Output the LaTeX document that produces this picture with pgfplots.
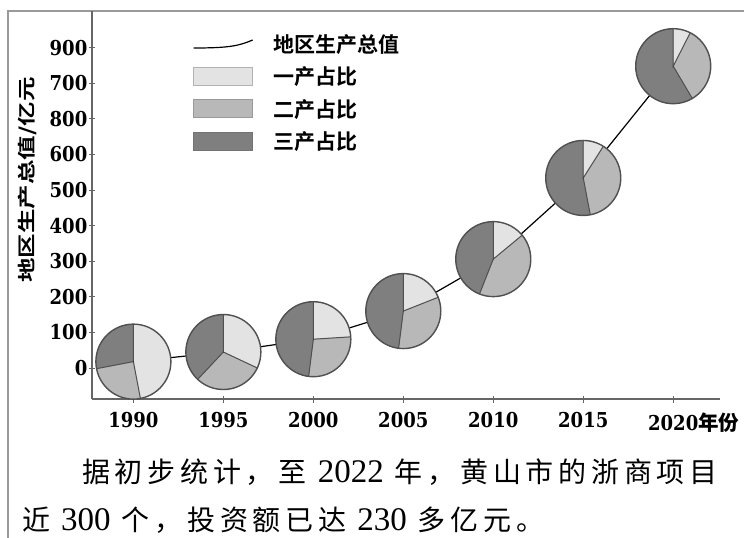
\documentclass[border=0pt]{standalone}
\usepackage{pgfplots}
\pgfplotsset{compat=1.18}
\usepackage{graphicx}
\usepackage{fontspec}
\setmainfont{DejaVu Serif}[FakeStretch=0.88]
\newfontfamily\cjkb{Noto Sans CJK SC Bold}
\newfontfamily\cjk{Noto Sans CJK SC}[LetterSpace=17]
\newfontfamily\tnr{Liberation Serif}

\definecolor{plight}{HTML}{E3E3E3}
\definecolor{pmed}{HTML}{B8B8B8}
\definecolor{pdark}{HTML}{7F7F7F}
\definecolor{pline}{HTML}{505050}
\definecolor{framec}{HTML}{9A9A9A}

\def\pr{37.5bp}
% meta "a/b": share of primary and secondary industry in %
\def\drawpie#1/#2\relax{%
  \pgfmathsetmacro\angA{90-3.6*#1}%
  \pgfmathsetmacro\angB{\angA-3.6*#2}%
  \begin{scope}[opacity=1, draw opacity=1, fill opacity=1]
  \fill[plight] (0pt,0pt) -- (90:\pr) arc[start angle=90, end angle=\angA, radius=\pr] -- cycle;
  \fill[pmed] (0pt,0pt) -- (\angA:\pr) arc[start angle=\angA, end angle=\angB, radius=\pr] -- cycle;
  \fill[pdark] (0pt,0pt) -- (\angB:\pr) arc[start angle=\angB, end angle=-270, radius=\pr] -- cycle;
  \draw[pline, line width=1bp] (90:\pr) -- (0pt,0pt) -- (\angA:\pr) (0pt,0pt) -- (\angB:\pr);
  \draw[pline, line width=1.4bp] (0pt,0pt) circle[radius=\pr];
  \end{scope}
}

\begin{document}
\begin{tikzpicture}
\path[use as bounding box] (0,0) rectangle (744bp,-538bp);
\draw[framec, line width=1.5bp] (744bp,-11bp) -- (8bp,-11bp) -- (8bp,-538bp);

\begin{axis}[
    at={(92bp,-399bp)}, anchor=south west,
    scale only axis, width=628bp, height=388bp,
    xmin=1987.7, xmax=2022.6,
    ymin=-87, ymax=1003,
    clip=false,
    axis lines=left,
    axis line style={-, draw=black!60, line width=1.3bp},
    tick style={draw=black!60, line width=1bp},
    major tick length=7bp, tick align=center,
    xtick={1990,1995,2000,2005,2010,2015,2020},
    xticklabels={1990,1995,2000,2005,2010,2015,{2020\rlap{\cjkb 年份}}},
    ytick={0,100,200,300,400,500,600,700,800,900},
    yticklabels={0,100,200,300,400,500,600,800,700,900},
    ticklabel style={font=\fontsize{20.5bp}{20.5bp}\selectfont\bfseries, inner sep=0pt},
    xticklabel style={anchor=north, yshift=-10bp},
    yticklabel style={anchor=east, xshift=-1bp},
    ylabel={\scalebox{1.36}[1]{\cjkb\fontsize{18bp}{18bp}\selectfont 地区生产总值/亿元}},
    ylabel style={at={(axis description cs:-0.1035,0.564)}, anchor=center, inner sep=0pt},
    legend style={draw=none, fill=none, at={(rel axis cs:0.161,0.94)}, anchor=north west,
      inner sep=0pt, outer sep=0pt, row sep=13bp, column sep=20bp,
      font=\cjkb\fontsize{21bp}{21bp}\selectfont, nodes={inner sep=0pt}},
    legend cell align=left,
]
\addplot[black, line width=1.2bp, no marks,
  legend image code/.code={\draw[black, line width=1.2bp] (0bp,-4bp) .. controls (35bp,-4bp) and (45bp,-2bp) .. (59bp,4bp);}]
  coordinates {(1990,18) (1995,45) (2000,81) (2005,160) (2010,306) (2015,534) (2020,848)};
\addlegendentry{地区生产总值}

\addplot[scatter, only marks, mark=*, mark size=0.01bp, forget plot,
  mark options={draw=none, fill=none},
  point meta=explicit symbolic,
  scatter/@pre marker code/.code={\expandafter\drawpie\pgfplotspointmeta\relax},
  scatter/@post marker code/.code={},
] coordinates {
  (1990,18) [47/25]
  (1995,45) [32/30]
  (2000,81) [24/28]
  (2005,160) [19/33]
  (2010,306) [14/42]
  (2015,534) [9/38]
  (2020,848) [7.5/34]
};

\addlegendimage{legend image code/.code={\draw[fill=plight, draw=black!30, line width=1bp] (0bp,-9bp) rectangle (59bp,9bp);}}
\addlegendentry{一产占比}
\addlegendimage{legend image code/.code={\draw[fill=pmed, draw=black!40, line width=1bp] (0bp,-9bp) rectangle (59bp,9bp);}}
\addlegendentry{二产占比}
\addlegendimage{legend image code/.code={\draw[fill=pdark, draw=black!55, line width=1bp] (0bp,-9bp) rectangle (59bp,9bp);}}
\addlegendentry{三产占比}
\end{axis}

\node[anchor=west, inner sep=0pt, font=\cjk\fontsize{28bp}{28bp}\selectfont] at (82bp,-472bp)
  {据初步统计，至 {\tnr\fontsize{33bp}{33bp}\selectfont 2022} 年，黄山市的浙商项目};
\node[anchor=west, inner sep=0pt, font=\cjk\fontsize{28bp}{28bp}\selectfont] at (22bp,-520bp)
  {近 {\tnr\fontsize{33bp}{33bp}\selectfont 300} 个，投资额已达 {\tnr\fontsize{33bp}{33bp}\selectfont 230} 多亿元。};
\end{tikzpicture}
\end{document}
